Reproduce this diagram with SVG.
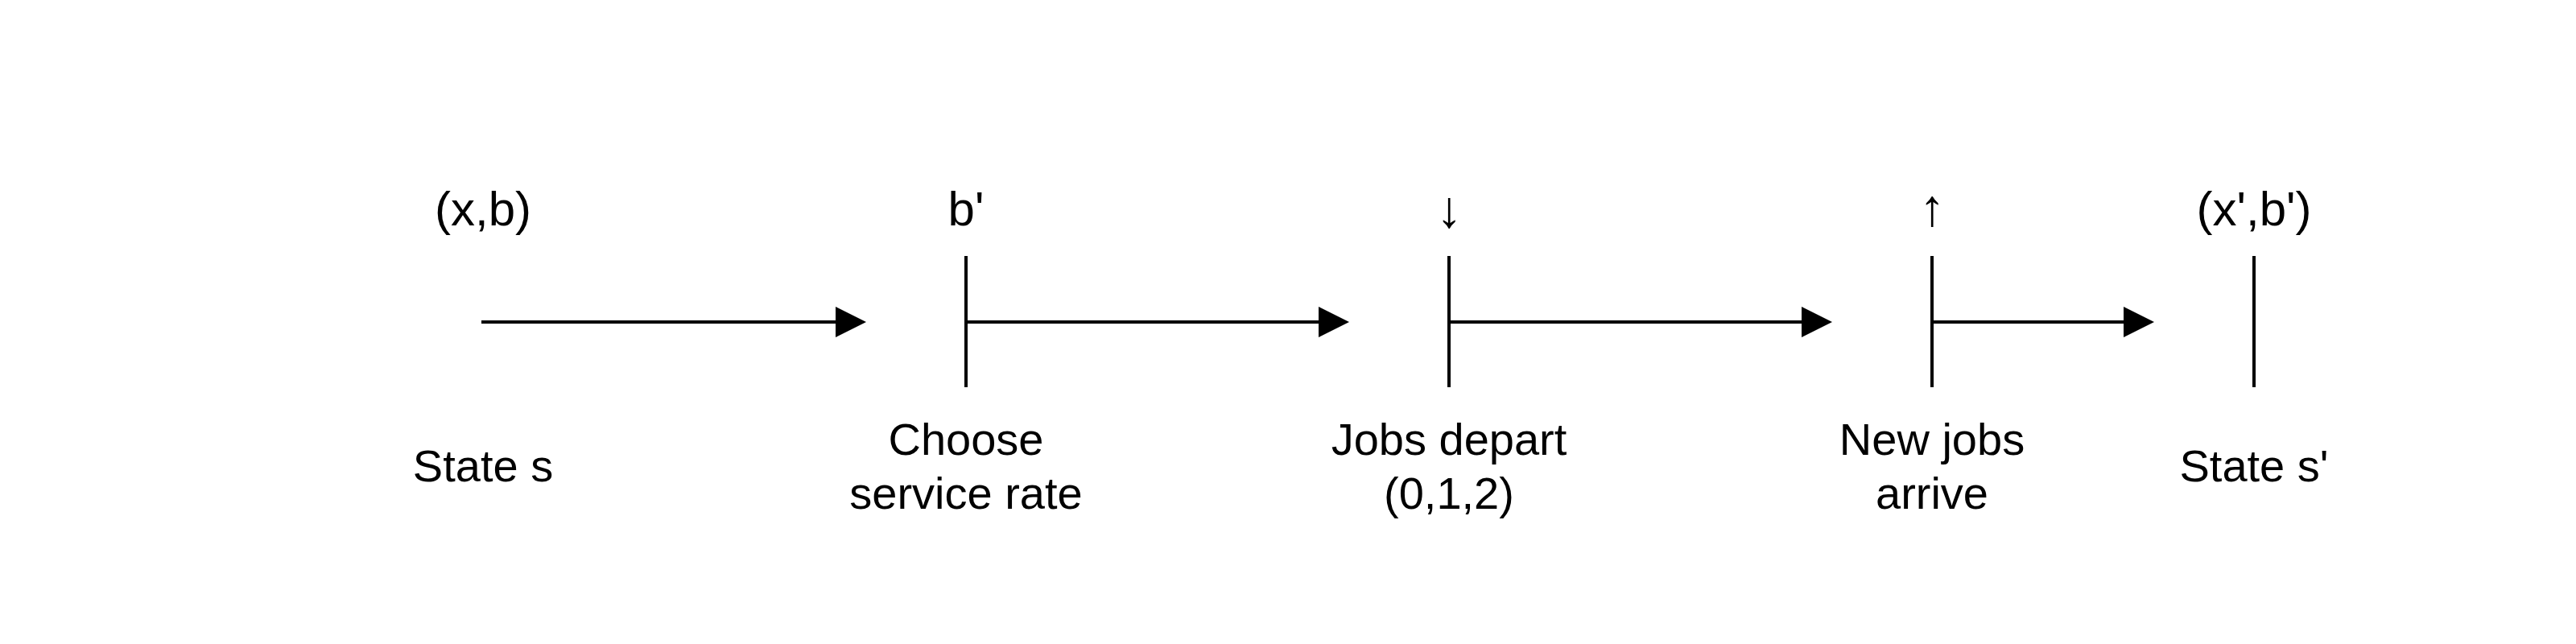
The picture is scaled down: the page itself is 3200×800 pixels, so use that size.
<svg xmlns="http://www.w3.org/2000/svg" width="3200" height="800" viewBox="0 0 3200 800">
<style>
text{font-family:"Liberation Sans",Arial,Helvetica,sans-serif;font-size:56px;fill:#000;text-anchor:middle}
text.top{font-size:60px}
text.sym{font-size:64px}
.ln{stroke:#000;stroke-width:4;fill:none}
.hd{fill:#000;stroke:none}
</style>
<rect width="3200" height="800" fill="#fff"/>
<g id="connectors">
<line class="ln" x1="598" y1="400" x2="1040" y2="400"/>
<polygon class="hd" points="1076,400 1038,381 1038,419"/>
<line class="ln" x1="1200" y1="400" x2="1640" y2="400"/>
<polygon class="hd" points="1676,400 1638,381 1638,419"/>
<line class="ln" x1="1800" y1="400" x2="2240" y2="400"/>
<polygon class="hd" points="2276,400 2238,381 2238,419"/>
<line class="ln" x1="2400" y1="400" x2="2640" y2="400"/>
<polygon class="hd" points="2676,400 2638,381 2638,419"/>
</g>
<g id="node-state-s">
<text class="top" x="600" y="280">(x,b)</text>
<text x="600" y="598">State s</text>
</g>
<g id="node-choose">
<text class="top" x="1200" y="280">b'</text>
<line class="ln" x1="1200" y1="318" x2="1200" y2="481"/>
<text x="1200" y="565">Choose</text>
<text x="1200" y="632">service rate</text>
</g>
<g id="node-depart">
<text class="sym" x="1800" y="282">↓</text>
<line class="ln" x1="1800" y1="318" x2="1800" y2="481"/>
<text x="1800" y="565">Jobs depart</text>
<text x="1800" y="632">(0,1,2)</text>
</g>
<g id="node-arrive">
<text class="sym" x="2400" y="280">↑</text>
<line class="ln" x1="2400" y1="318" x2="2400" y2="481"/>
<text x="2400" y="565">New jobs</text>
<text x="2400" y="632">arrive</text>
</g>
<g id="node-state-s2">
<text class="top" x="2800" y="280">(x',b')</text>
<line class="ln" x1="2800" y1="318" x2="2800" y2="481"/>
<text x="2800" y="598">State s'</text>
</g>
</svg>
